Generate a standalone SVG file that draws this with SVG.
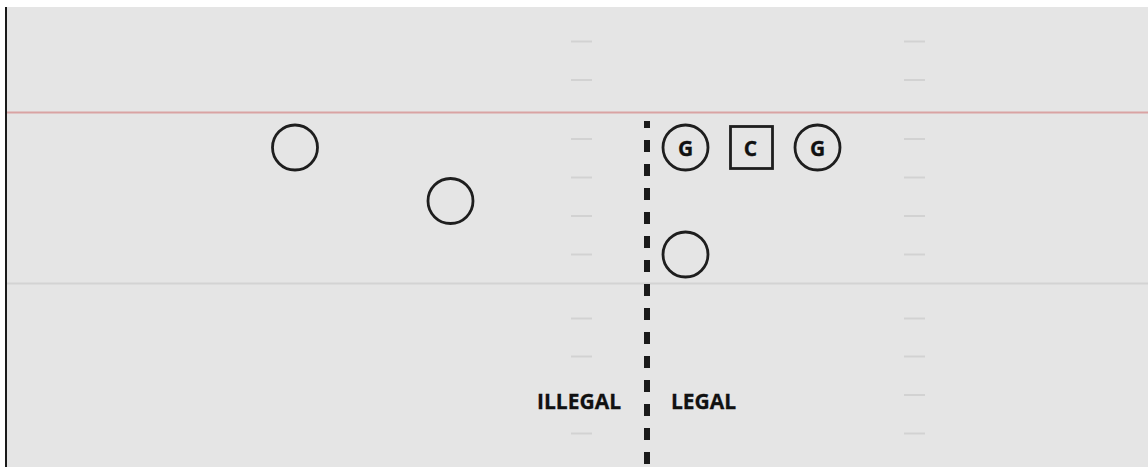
<svg xmlns="http://www.w3.org/2000/svg" width="1148" height="467" viewBox="0 0 1148 467">
<style>
.hash{stroke:#d2d2d2;stroke-width:2}
.player{fill:none;stroke:#1e1e1e;stroke-width:2.8}
.lbl{font-family:"Open Sans","Liberation Sans",sans-serif;font-weight:bold;fill:#111;stroke:#111;stroke-width:0.3}
</style>
<rect x="0" y="0" width="1148" height="467" fill="#ffffff"/>
<rect x="7" y="7" width="1141" height="460" fill="#e5e5e5"/>
<line x1="6" y1="7" x2="6" y2="467" stroke="#1a1a1a" stroke-width="2"/>
<g id="field-lines">
<line x1="7" y1="112.5" x2="1148" y2="112.5" stroke="#d9a3a3" stroke-width="2"/>
<line x1="7" y1="283.5" x2="1148" y2="283.5" stroke="#d3d3d3" stroke-width="2"/>
</g>
<g id="hashes">
<line class="hash" x1="571" y1="41.5" x2="592" y2="41.5"/>
<line class="hash" x1="571" y1="80" x2="592" y2="80"/>
<line class="hash" x1="571" y1="139" x2="592" y2="139"/>
<line class="hash" x1="571" y1="177.5" x2="592" y2="177.5"/>
<line class="hash" x1="571" y1="216" x2="592" y2="216"/>
<line class="hash" x1="571" y1="254.5" x2="592" y2="254.5"/>
<line class="hash" x1="571" y1="318.5" x2="592" y2="318.5"/>
<line class="hash" x1="571" y1="356.5" x2="592" y2="356.5"/>
<line class="hash" x1="571" y1="433.5" x2="592" y2="433.5"/>
<line class="hash" x1="904" y1="41.5" x2="925" y2="41.5"/>
<line class="hash" x1="904" y1="80" x2="925" y2="80"/>
<line class="hash" x1="904" y1="139" x2="925" y2="139"/>
<line class="hash" x1="904" y1="177.5" x2="925" y2="177.5"/>
<line class="hash" x1="904" y1="216" x2="925" y2="216"/>
<line class="hash" x1="904" y1="254.5" x2="925" y2="254.5"/>
<line class="hash" x1="904" y1="318.5" x2="925" y2="318.5"/>
<line class="hash" x1="904" y1="356.5" x2="925" y2="356.5"/>
<line class="hash" x1="904" y1="395" x2="925" y2="395"/>
<line class="hash" x1="904" y1="433.5" x2="925" y2="433.5"/>
</g>
<g id="connectors">
<line id="line-of-scrimmage" x1="647" y1="121" x2="647" y2="467" stroke="#1a1a1a" stroke-width="6" stroke-dasharray="12 12" stroke-dashoffset="5"/>
</g>
<g id="player-left1"><circle class="player" cx="295" cy="147.5" r="22.5"/></g>
<g id="player-left2"><circle class="player" cx="450.5" cy="201" r="22.5"/></g>
<g id="player-bottom"><circle class="player" cx="685.5" cy="254.5" r="22.5"/></g>
<g id="guard-left"><circle class="player" cx="685.5" cy="147.5" r="22.5"/><text class="lbl" x="685.5" y="155.5" font-size="21" text-anchor="middle">G</text></g>
<g id="center"><rect class="player" x="730.5" y="126.5" width="42" height="42"/><text class="lbl" x="750.5" y="155.5" font-size="21" text-anchor="middle">C</text></g>
<g id="guard-right"><circle class="player" cx="817.5" cy="147.5" r="22.5"/><text class="lbl" x="817.5" y="155.5" font-size="21" text-anchor="middle">G</text></g>
<g id="labels">
<text class="lbl" x="579" y="408.5" font-size="21" text-anchor="middle">ILLEGAL</text>
<text class="lbl" x="703.5" y="408.5" font-size="21" text-anchor="middle">LEGAL</text>
</g>
</svg>
